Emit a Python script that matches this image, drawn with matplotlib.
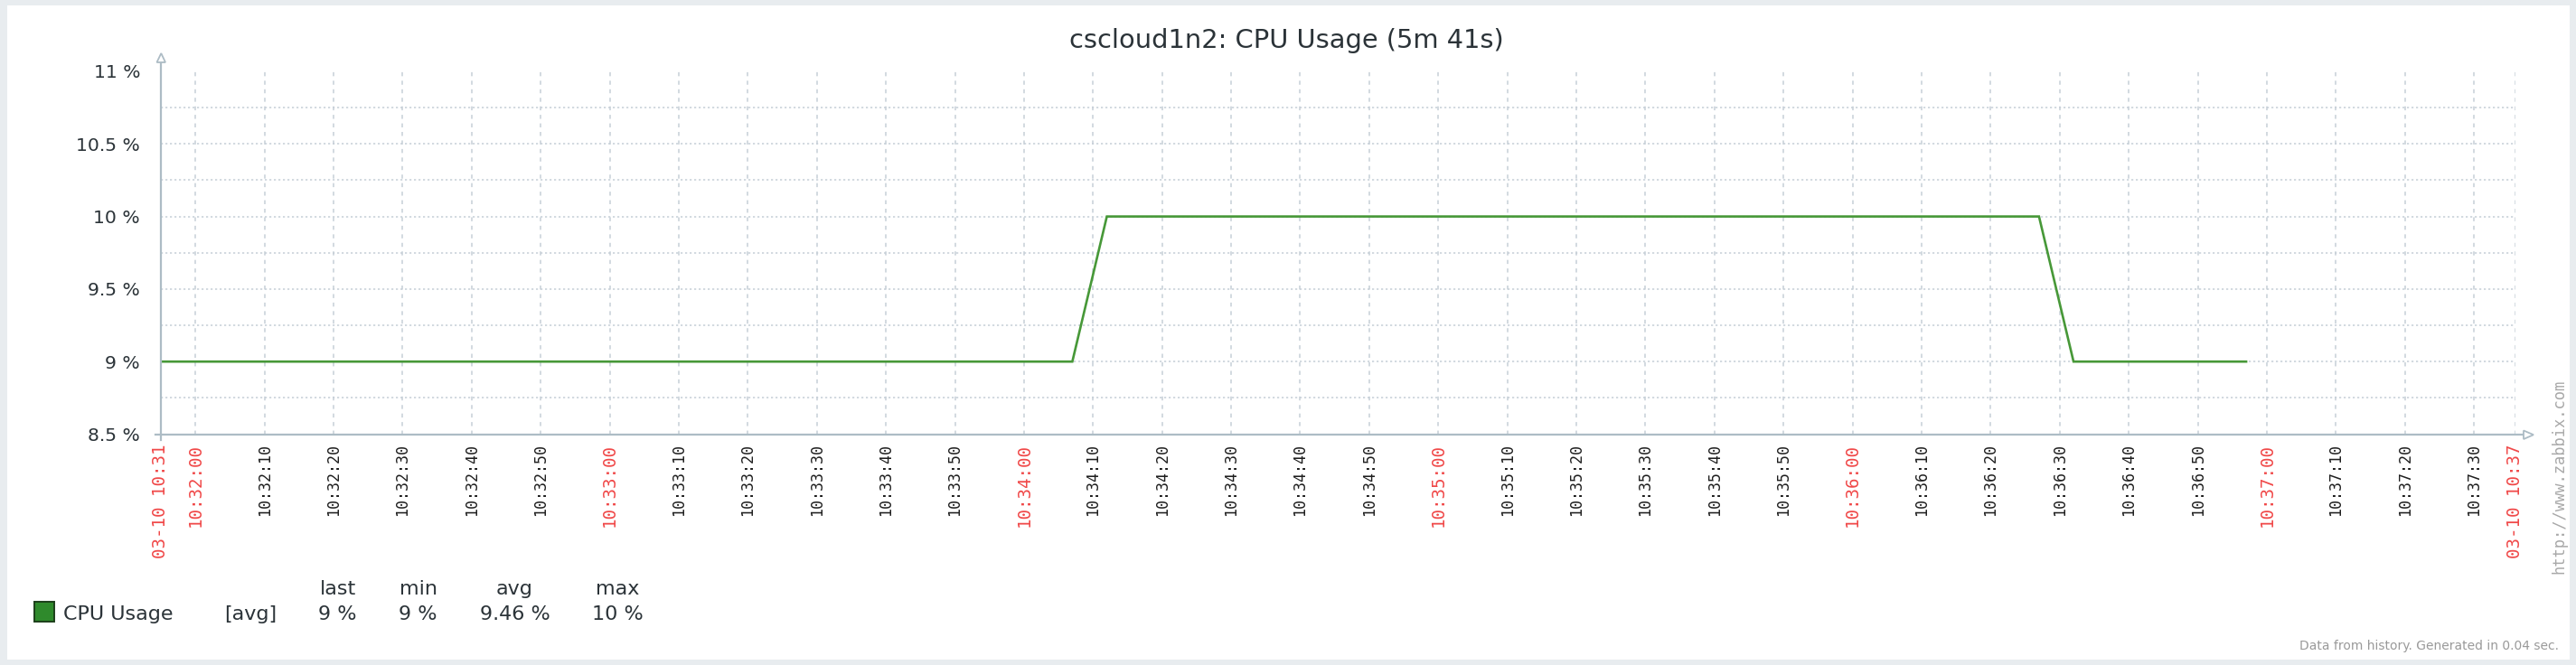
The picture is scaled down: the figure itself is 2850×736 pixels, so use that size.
import matplotlib
matplotlib.use("Agg")
import matplotlib.pyplot as plt
import matplotlib.dates as mdates
from matplotlib.patches import Rectangle, Polygon
from matplotlib.lines import Line2D
import pandas as pd
import numpy as np

plt.rcParams['lines.scale_dashes'] = False

# ---------------- data ----------------
title = "cscloud1n2: CPU Usage (5m 41s)"
day = "2024-03-10 "
times = ["10:31:55", "10:34:07", "10:34:12", "10:36:27", "10:36:32", "10:36:57"]
cpu_usage = [9, 9, 10, 10, 9, 9]
x_start = "10:31:55"
x_end = "10:37:36"
y_ticks = [8.5, 9, 9.5, 10, 10.5, 11]
y_tick_labels = ["8.5 %", "9 %", "9.5 %", "10 %", "10.5 %", "11 %"]
y_grid = [8.75, 9, 9.25, 9.5, 9.75, 10, 10.25, 10.5, 10.75]
legend_name = "CPU Usage"
legend_func = "[avg]"
legend_headers = ["last", "min", "avg", "max"]
legend_values = ["9 %", "9 %", "9.46 %", "10 %"]
footer = "Data from history. Generated in 0.04 sec."
watermark = "http://www.zabbix.com"

# ---------------- figure ----------------
W, H = 2850, 736
DPI = 100
fig = plt.figure(figsize=(W / DPI, H / DPI), dpi=DPI, facecolor="#e8ecef")

def fx(x):
    return x / W

def fy(y):
    return 1 - y / H

# white panel
fig.patches.append(Rectangle((fx(8), fy(730)), fx(2843) - fx(8), fy(6) - fy(730),
                             transform=fig.transFigure, facecolor="white",
                             edgecolor="none", zorder=-5))

L, R, T, B = 178, 2783, 79, 480.5
ax = fig.add_axes([fx(L), fy(B), fx(R) - fx(L), fy(T) - fy(B)])
ax.set_facecolor("white")
ax.set_zorder(1)

t = pd.to_datetime([day + s for s in times])
t0 = pd.Timestamp(day + x_start)
t1 = pd.Timestamp(day + x_end)

xt = mdates.date2num(t)
x0 = mdates.date2num(t0)
x1 = mdates.date2num(t1)

grid_col = "#c6cfd7"
axis_col = "#adbcc5"

# horizontal grid
for g in y_grid:
    ax.axhline(g, color=grid_col, lw=1.1, ls=(0, (1.6, 2.0)), zorder=1)

# x ticks every 10 s
tick_times = pd.date_range(pd.Timestamp(day + "10:32:00"), pd.Timestamp(day + "10:37:30"), freq="10s")
for tt in list(tick_times) + [t1]:
    ax.axvline(mdates.date2num(tt), color=grid_col, lw=1.1, ls=(0, (3.2, 3.6)), zorder=1)

ax.plot(xt, cpu_usage, color="#479838", lw=1.9, zorder=3, solid_joinstyle="miter")

ax.set_xlim(x0, x1)
ax.set_ylim(y_ticks[0], y_ticks[-1])

# tick labels
ticks = [t0] + list(tick_times) + [t1]
labels = ["03-10 10:31"] + [tt.strftime("%H:%M:%S") for tt in tick_times] + ["03-10 10:37"]
ax.set_xticks(mdates.date2num(ticks))
ax.set_xticklabels(labels, rotation=90, family="DejaVu Sans Mono")
ax.tick_params(axis="x", length=0, pad=7.8)
for lab, tt, txt in zip(ax.get_xticklabels(), ticks, labels):
    red = (tt.second == 0) or txt.startswith("03-10")
    if red:
        lab.set_color("#f04848")
        lab.set_fontsize(13.8)
    else:
        lab.set_color("#1e1e1e")
        lab.set_fontsize(12)

ax.set_yticks(y_ticks)
ax.set_yticklabels(y_tick_labels, fontsize=14.6, color="#2b3338")
ax.tick_params(axis="y", length=0, pad=16.5)

for s in ax.spines.values():
    s.set_visible(False)

# axes lines with arrows (pixel coordinates)
def line_px(xs, ys, **kw):
    fig.add_artist(Line2D([fx(x) for x in xs], [fy(y) for y in ys],
                          transform=fig.transFigure, **kw))

line_px([178.3, 178.3], [487, 69], color=axis_col, lw=1.6, zorder=5)
line_px([171.5, 2792], [481.2, 481.2], color=axis_col, lw=1.6, zorder=5)
fig.add_artist(Polygon([(fx(173.5), fy(69)), (fx(183), fy(69)), (fx(178.3), fy(59))],
                       closed=True, transform=fig.transFigure, facecolor="white",
                       edgecolor=axis_col, lw=1.3, zorder=6))
fig.add_artist(Polygon([(fx(2792), fy(476.5)), (fx(2792), fy(486)), (fx(2803), fy(481.2))],
                       closed=True, transform=fig.transFigure, facecolor="white",
                       edgecolor=axis_col, lw=1.3, zorder=6))

# title
fig.text(fx(1423), fy(53), title, ha="center", va="baseline", fontsize=20.8,
         color="#2b3338")

# legend
fig.patches.append(Rectangle((fx(38), fy(688)), fx(59.5) - fx(38), fy(666) - fy(688),
                             transform=fig.transFigure, facecolor="#2f8a2c",
                             edgecolor="#1c3f1a", lw=1.4, zorder=5))
fig.text(fx(70.5), fy(685.5), legend_name, ha="left", va="baseline", fontsize=16,
         color="#2b3338")
fig.text(fx(277), fy(685.5), legend_func, ha="center", va="baseline", fontsize=16,
         color="#2b3338")
col_x = [373.5, 462.5, 569.5, 683.5]
for cx, h, v in zip(col_x, legend_headers, legend_values):
    fig.text(fx(cx), fy(658.5), h, ha="center", va="baseline", fontsize=16, color="#2b3338")
    fig.text(fx(cx), fy(686), v, ha="center", va="baseline", fontsize=16, color="#2b3338")

# footer and watermark
fig.text(fx(2831), fy(719), footer, ha="right", va="baseline", fontsize=10,
         color="#9a9a9a")
fig.text(fx(2831), fy(527), watermark, ha="center", va="center", rotation=90,
         fontsize=12.3, family="DejaVu Sans Mono", color="#a8a8a8")

fig.savefig("out.png", dpi=DPI, facecolor=fig.get_facecolor())
